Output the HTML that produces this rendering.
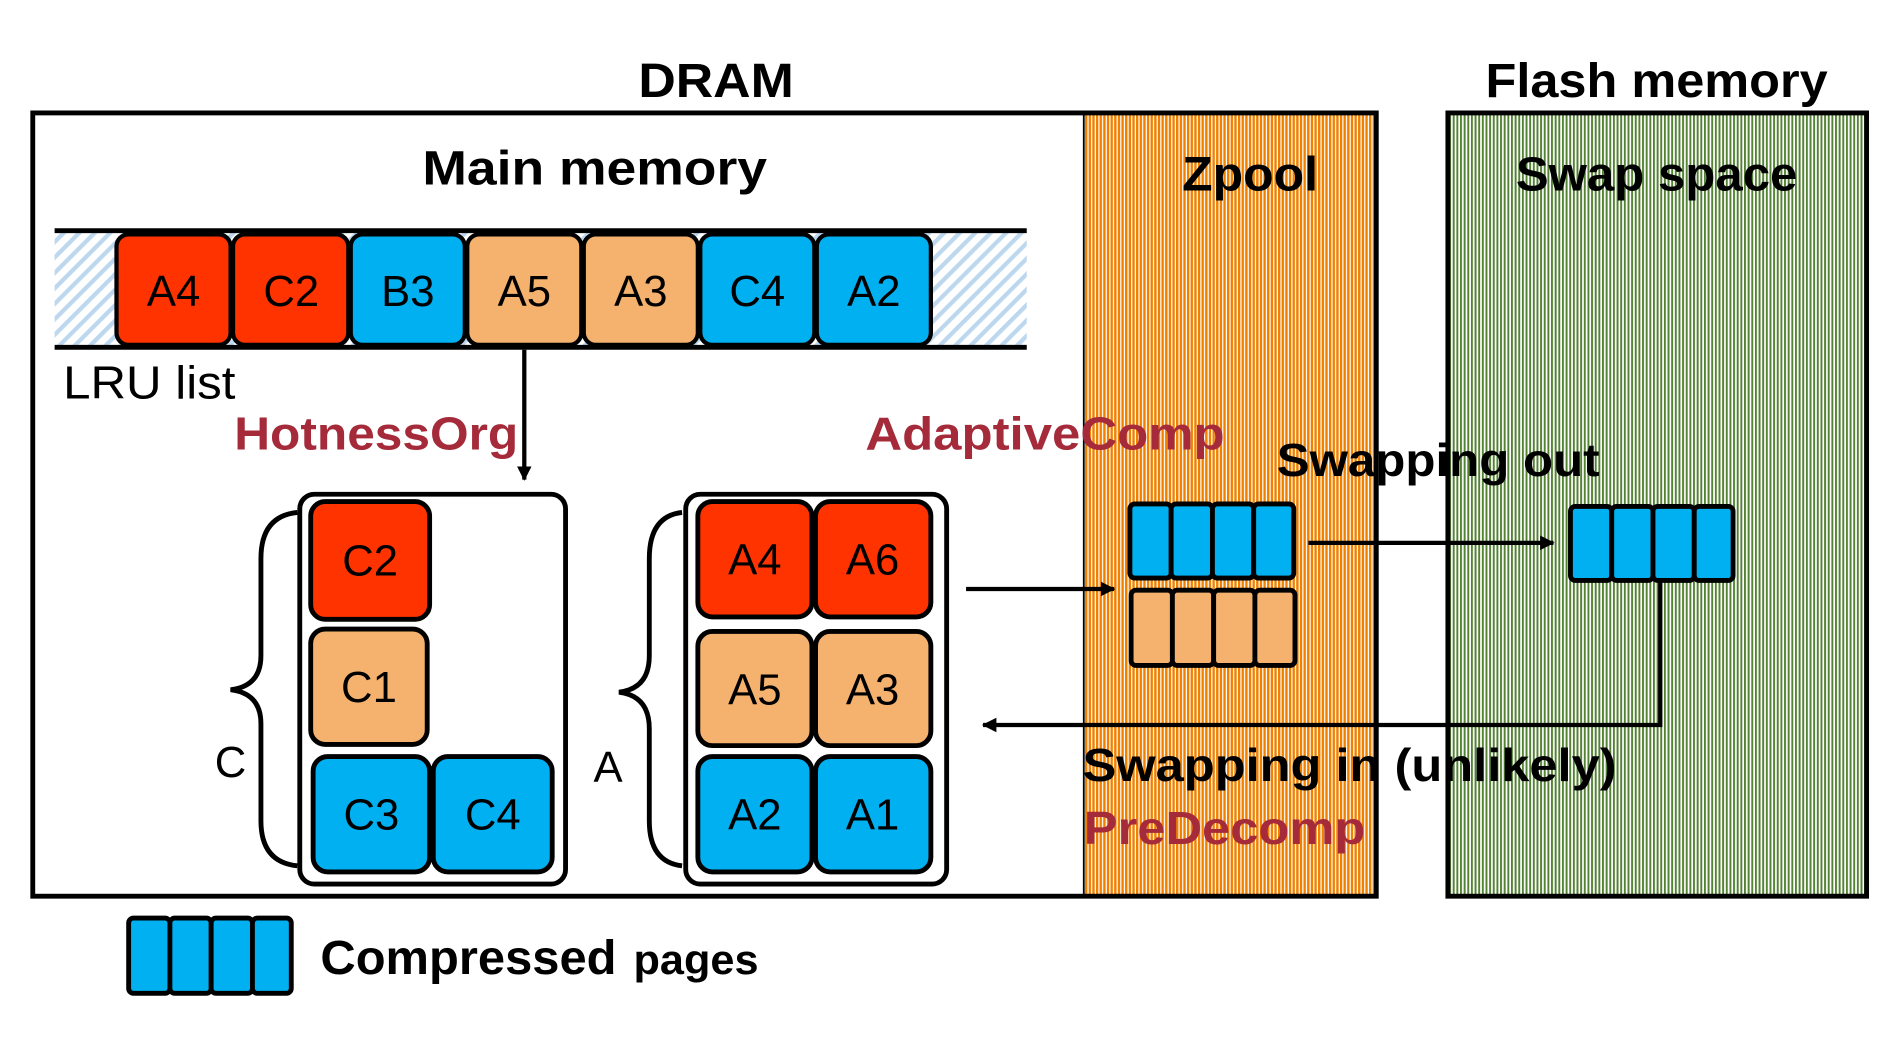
<!DOCTYPE html>
<html><head><meta charset="utf-8"><style>html,body{margin:0;padding:0;background:#fff;overflow:hidden}svg{display:block}text{font-family:"Liberation Sans",sans-serif}</style></head><body>
<svg width="1903" height="1048" viewBox="0 0 1568 863" preserveAspectRatio="none" xmlns="http://www.w3.org/2000/svg">
<defs>
<pattern id="or" width="3" height="10" patternUnits="userSpaceOnUse"><rect width="3" height="10" fill="#fff"/><rect width="2" height="10" fill="#F08000"/></pattern>
<pattern id="gr" width="3" height="10" patternUnits="userSpaceOnUse"><rect width="3" height="10" fill="#fff"/><rect width="1.6" height="10" fill="#548235"/></pattern>
<pattern id="hb" width="9" height="9" patternUnits="userSpaceOnUse" patternTransform="rotate(45)"><rect width="9" height="9" fill="#fff"/><rect width="3.5" height="9" fill="#BDD7EE"/></pattern>
<marker id="ah" markerWidth="12" markerHeight="12" refX="11" refY="6" orient="auto" markerUnits="userSpaceOnUse"><path d="M0,0 L12,6 L0,12 z" fill="#000"/></marker>
</defs>
<text x="590" y="80" font-size="40" font-weight="bold" text-anchor="middle" textLength="128" lengthAdjust="spacingAndGlyphs">DRAM</text>
<text x="1365" y="80" font-size="40" font-weight="bold" text-anchor="middle" textLength="282" lengthAdjust="spacingAndGlyphs">Flash memory</text>
<rect x="893" y="93" width="241" height="645" fill="url(#or)"/>
<rect x="27" y="93" width="1107" height="645" fill="none" stroke="#000" stroke-width="4"/>
<line x1="893" y1="93" x2="893" y2="738" stroke="#000" stroke-width="1.5"/>
<rect x="1193" y="93" width="345" height="645" fill="url(#gr)" stroke="#000" stroke-width="4"/>
<text x="490" y="152" font-size="40" font-weight="bold" text-anchor="middle" textLength="284" lengthAdjust="spacingAndGlyphs">Main memory</text>
<text x="1030" y="157" font-size="40" font-weight="bold" text-anchor="middle" textLength="112" lengthAdjust="spacingAndGlyphs">Zpool</text>
<text x="1365" y="157" font-size="40" font-weight="bold" text-anchor="middle" textLength="232" lengthAdjust="spacingAndGlyphs">Swap space</text>
<rect x="45" y="190" width="801" height="96" fill="url(#hb)"/>
<line x1="45" y1="190" x2="846" y2="190" stroke="#000" stroke-width="4"/>
<line x1="45" y1="286" x2="846" y2="286" stroke="#000" stroke-width="4"/>
<g stroke="#000" stroke-width="3.5">
<rect x="96" y="193" width="94" height="91" rx="10" fill="#FF3300"/>
<rect x="192" y="193" width="95" height="91" rx="10" fill="#FF3300"/>
<rect x="289" y="193" width="94" height="91" rx="10" fill="#00B0F0"/>
<rect x="385" y="193" width="94" height="91" rx="10" fill="#F4B26E"/>
<rect x="481" y="193" width="94" height="91" rx="10" fill="#F4B26E"/>
<rect x="577" y="193" width="94" height="91" rx="10" fill="#00B0F0"/>
<rect x="673" y="193" width="94" height="91" rx="10" fill="#00B0F0"/>
</g>
<g font-size="36" text-anchor="middle">
<text x="143" y="252">A4</text><text x="240" y="252">C2</text><text x="336" y="252">B3</text><text x="432" y="252">A5</text><text x="528" y="252">A3</text><text x="624" y="252">C4</text><text x="720" y="252">A2</text>
</g>
<text x="52" y="328" font-size="38" textLength="142" lengthAdjust="spacingAndGlyphs">LRU list</text>
<text x="193" y="370" font-size="38" font-weight="bold" fill="#A52A3A" textLength="234" lengthAdjust="spacingAndGlyphs">HotnessOrg</text>
<text x="713" y="370" font-size="38" font-weight="bold" fill="#A52A3A" textLength="296" lengthAdjust="spacingAndGlyphs">AdaptiveComp</text>
<line x1="432" y1="288" x2="432" y2="395" stroke="#000" stroke-width="3.5" marker-end="url(#ah)"/>
<rect x="247" y="407" width="219" height="321" rx="12" fill="#fff" stroke="#000" stroke-width="4"/>
<rect x="565" y="407" width="215" height="321" rx="12" fill="#fff" stroke="#000" stroke-width="4"/>
<g stroke="#000" stroke-width="4">
<rect x="256" y="413" width="98" height="97" rx="12" fill="#FF3300"/>
<rect x="256" y="518" width="96" height="95" rx="12" fill="#F4B26E"/>
<rect x="258" y="623" width="96" height="95" rx="12" fill="#00B0F0"/>
<rect x="357" y="623" width="98" height="95" rx="12" fill="#00B0F0"/>
<rect x="575" y="413" width="94" height="95" rx="12" fill="#FF3300"/>
<rect x="672" y="413" width="95" height="95" rx="12" fill="#FF3300"/>
<rect x="575" y="520" width="94" height="94" rx="12" fill="#F4B26E"/>
<rect x="672" y="520" width="95" height="94" rx="12" fill="#F4B26E"/>
<rect x="575" y="623" width="94" height="95" rx="12" fill="#00B0F0"/>
<rect x="672" y="623" width="95" height="95" rx="12" fill="#00B0F0"/>
</g>
<g font-size="36" text-anchor="middle">
<text x="305" y="474">C2</text><text x="304" y="578">C1</text><text x="306" y="683">C3</text><text x="406" y="683">C4</text>
<text x="622" y="473">A4</text><text x="719" y="473">A6</text><text x="622" y="580">A5</text><text x="719" y="580">A3</text><text x="622" y="683">A2</text><text x="719" y="683">A1</text>
</g>
<path d="M245,422 Q215,425 215,460 L215,540 Q215,565 190,568 Q215,571 215,596 L215,676 Q215,710 245,713" fill="none" stroke="#000" stroke-width="4"/>
<path d="M562,422 Q535,425 535,460 L535,540 Q535,567 510,570 Q535,573 535,600 L535,676 Q535,710 562,713" fill="none" stroke="#000" stroke-width="4"/>
<text x="190" y="640" font-size="36" text-anchor="middle">C</text>
<text x="501" y="644" font-size="36" text-anchor="middle">A</text>
<line x1="796" y1="485" x2="918" y2="485" stroke="#000" stroke-width="3.5" marker-end="url(#ah)"/>
<g stroke="#000" stroke-width="4">
<rect x="931" y="415" width="34" height="61" rx="4" fill="#00B0F0"/><rect x="965" y="415" width="34" height="61" rx="4" fill="#00B0F0"/><rect x="999" y="415" width="34" height="61" rx="4" fill="#00B0F0"/><rect x="1033" y="415" width="33" height="61" rx="4" fill="#00B0F0"/>
<rect x="932" y="486" width="34" height="62" rx="4" fill="#F4B26E"/><rect x="966" y="486" width="34" height="62" rx="4" fill="#F4B26E"/><rect x="1000" y="486" width="34" height="62" rx="4" fill="#F4B26E"/><rect x="1034" y="486" width="33" height="62" rx="4" fill="#F4B26E"/>
<rect x="1294" y="417" width="34" height="61" rx="4" fill="#00B0F0"/><rect x="1328" y="417" width="34" height="61" rx="4" fill="#00B0F0"/><rect x="1362" y="417" width="34" height="61" rx="4" fill="#00B0F0"/><rect x="1396" y="417" width="32" height="61" rx="4" fill="#00B0F0"/>
<rect x="106" y="756" width="34" height="62" rx="4" fill="#00B0F0"/><rect x="140" y="756" width="34" height="62" rx="4" fill="#00B0F0"/><rect x="174" y="756" width="34" height="62" rx="4" fill="#00B0F0"/><rect x="208" y="756" width="32" height="62" rx="4" fill="#00B0F0"/>
</g>
<text x="1052" y="392" font-size="38" font-weight="bold" textLength="266" lengthAdjust="spacingAndGlyphs">Swapping out</text>
<line x1="1078" y1="447" x2="1280" y2="447" stroke="#000" stroke-width="3.5" marker-end="url(#ah)"/>
<polyline points="1368,479 1368,597 810,597" fill="none" stroke="#000" stroke-width="3.5" marker-end="url(#ah)"/>
<text x="892" y="643" font-size="38" font-weight="bold" textLength="440" lengthAdjust="spacingAndGlyphs">Swapping in (unlikely)</text>
<text x="893" y="695" font-size="38" font-weight="bold" fill="#A52A3A" textLength="232" lengthAdjust="spacingAndGlyphs">PreDecomp</text>
<text x="264" y="802" font-size="40" font-weight="bold" textLength="244" lengthAdjust="spacingAndGlyphs">Compressed</text>
<text x="522" y="802" font-size="34" font-weight="bold" textLength="103" lengthAdjust="spacingAndGlyphs">pages</text>
</svg>
</body></html>
